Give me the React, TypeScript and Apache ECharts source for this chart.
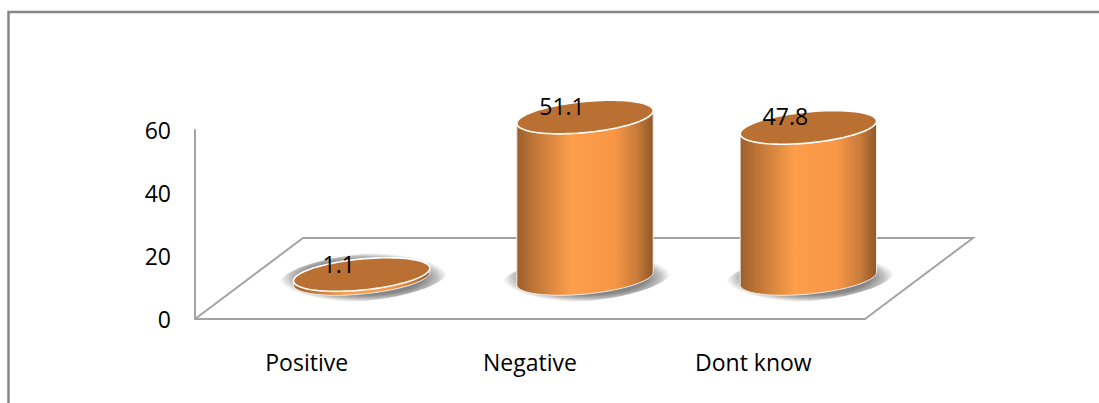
import React, { useEffect, useRef } from "react";
import * as echarts from "echarts";

const categories = ["Positive", "Negative", "Dont know"];
const values = [1.1, 51.1, 47.8];
const yTicks = { min: 0, max: 60, interval: 20 };

const FONT = "'Open Sans', Lato, sans-serif";
const AXIS = "#a3a3a3";
const DEPTH_X = 108;
const DEPTH_Y = 81;
const A = 68.5;
const B = 15.5;
const TILT = (5.6 * Math.PI) / 180;

function ePoint(cx: number, cy: number, u: number, a = A, b = B) {
  return [
    cx + a * Math.cos(u) * Math.cos(TILT) + b * Math.sin(u) * Math.sin(TILT),
    cy - a * Math.cos(u) * Math.sin(TILT) + b * Math.sin(u) * Math.cos(TILT),
  ];
}
function ellipse(cx: number, cy: number, a = A, b = B) {
  const pts: number[][] = [];
  for (let i = 0; i < 96; i++) pts.push(ePoint(cx, cy, (i / 96) * Math.PI * 2, a, b));
  return pts;
}
function lowerHalf(cx: number, cy: number) {
  const u0 = Math.atan2(B * Math.sin(TILT), A * Math.cos(TILT));
  const pts: number[][] = [];
  for (let i = 0; i <= 48; i++) pts.push(ePoint(cx, cy, u0 + (i / 48) * Math.PI));
  return pts;
}

const bodyFill = new echarts.graphic.LinearGradient(0, 0, 1, 0, [
  { offset: 0, color: "#9c5f2c" },
  { offset: 0.12, color: "#bd7436" },
  { offset: 0.4, color: "#fd9e4b" },
  { offset: 0.72, color: "#f79646" },
  { offset: 0.88, color: "#c87b3a" },
  { offset: 1, color: "#8f5828" },
]);

const shadowFill = new echarts.graphic.RadialGradient(0.5, 0.5, 0.5, [
  { offset: 0, color: "#858585" },
  { offset: 0.7, color: "#868686" },
  { offset: 0.86, color: "rgba(140,140,140,0.55)" },
  { offset: 1, color: "rgba(160,160,160,0)" },
]);

function renderFloor(params: any, api: any) {
  const o = api.coord([0, 0]);
  const cs = params.coordSys;
  if (params.dataIndex !== 0) return { type: "group", children: [] };
  const right = cs.x + cs.width;
  return {
    type: "polyline",
    silent: true,
    shape: {
      points: [
        [cs.x, o[1]],
        [cs.x + DEPTH_X, o[1] - DEPTH_Y],
        [right + DEPTH_X, o[1] - DEPTH_Y],
        [right, o[1]],
      ],
    },
    style: { fill: null, stroke: AXIS, lineWidth: 2 },
  };
}

function renderCylinder(_params: any, api: any) {
  const base = api.coord([api.value(0), 0]);
  const top = api.coord([api.value(0), api.value(1)]);
  const cx = base[0] + DEPTH_X / 2 + 1;
  const by = base[1] - DEPTH_Y / 2;
  const ty = top[1] - DEPTH_Y / 2;
  const label = String(api.value(1));
  const low = lowerHalf(cx, by);
  const upper = [low[low.length - 1], low[0]];
  const dy = by - ty;
  return {
    type: "group",
    children: [
      {
        type: "polygon",
        shape: { points: ellipse(cx + 2, by - 1, A + 17, B + 8) },
        style: { fill: shadowFill },
      },
      {
        type: "polygon",
        shape: {
          points: [...low, [upper[0][0], upper[0][1] - dy], [upper[1][0], upper[1][1] - dy]],
        },
        style: { fill: bodyFill, stroke: "#f2ede8", lineWidth: 1 },
      },
      {
        type: "polygon",
        shape: { points: ellipse(cx, ty - 0.5) },
        style: { fill: "#ba7033", stroke: "#ffffff", lineWidth: 1.6 },
      },
      {
        type: "text",
        x: cx - 23,
        y: ty - 11.5,
        style: {
          text: label,
          fill: "#000000",
          font: `23px ${FONT}`,
          align: "center",
          verticalAlign: "middle",
        },
      },
    ],
  };
}

export default function App() {
  const ref = useRef<HTMLDivElement>(null);
  useEffect(() => {
    document.body.style.margin = "0";
    const chart = echarts.init(ref.current!, null, { renderer: "svg" });
    chart.setOption({
      animation: false,
      backgroundColor: "#ffffff",
      graphic: [
        {
          type: "polyline",
          silent: true,
          shape: { points: [[8.5, 403], [8.5, 12], [1099, 12]] },
          style: { fill: null, stroke: "#868686", lineWidth: 2.5 },
        },
      ],
      grid: { left: 195, right: 234, top: 130, bottom: 84, containLabel: false },
      xAxis: {
        type: "category",
        data: categories,
        axisTick: { show: false },
        axisLine: { onZero: true, lineStyle: { color: AXIS, width: 2 } },
        axisLabel: { color: "#000", fontFamily: FONT, fontSize: 23, margin: 31 },
      },
      yAxis: {
        type: "value",
        ...yTicks,
        splitLine: { show: false },
        axisTick: { show: false },
        axisLine: { show: true, lineStyle: { color: AXIS, width: 2 } },
        axisLabel: { color: "#000", fontFamily: FONT, fontSize: 23, margin: 24, padding: [2, 0, 0, 0] },
      },
      series: [
        {
          type: "custom",
          silent: true,
          z: 1,
          renderItem: renderFloor,
          encode: { x: 0, y: 1 },
          data: categories.map((_, i) => [i, 0]),
        },
        {
          type: "custom",
          silent: true,
          z: 2,
          renderItem: renderCylinder,
          encode: { x: 0, y: 1 },
          data: values.map((v, i) => [i, v]),
        },
      ],
    });
    return () => chart.dispose();
  }, []);
  return <div ref={ref} style={{ width: 1099, height: 403 }} />;
}
